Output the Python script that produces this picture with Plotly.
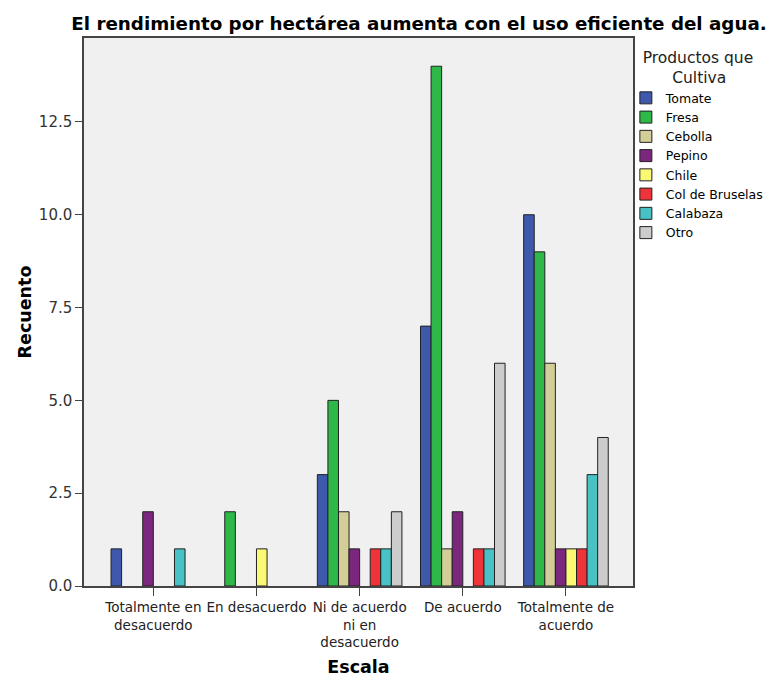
import plotly.graph_objects as go

categories = ["Totalmente en<br>desacuerdo", "En desacuerdo", "Ni de acuerdo<br>ni en<br>desacuerdo",
              "De acuerdo", "Totalmente de<br>acuerdo"]
series_names = ["Tomate", "Fresa", "Cebolla", "Pepino", "Chile", "Col de Bruselas", "Calabaza", "Otro"]
tomate = [1, None, 3, 7, 10]
fresa = [None, 2, 5, 14, 9]
cebolla = [None, None, 2, 1, 6]
pepino = [2, None, 1, 2, 1]
chile = [None, 1, None, None, 1]
col = [None, None, 1, 1, 1]
calabaza = [1, None, 1, 1, 3]
otro = [None, None, 2, 6, 4]
values = [tomate, fresa, cebolla, pepino, chile, col, calabaza, otro]
colors = ["#3E58AC", "#2EB848", "#D3CE97", "#7B277D", "#FBF873", "#EF3338", "#48C2C5", "#CCCCCC"]
y_ticks = [0, 2.5, 5, 7.5, 10, 12.5]

fig = go.Figure()
for name, vals, c in zip(series_names, values, colors):
    fig.add_trace(go.Bar(x=categories, y=vals, name=name,
                         marker=dict(color=c, line=dict(color="#222222", width=1))))

font = "DejaVu Sans, Arial, sans-serif"
fig.update_layout(
    width=769, height=677,
    barmode="group", bargap=0.18, bargroupgap=0,
    paper_bgcolor="white", plot_bgcolor="#F0F0F0",
    margin=dict(l=84, r=136, t=38, b=91, autoexpand=False),
    font=dict(family=font, size=13, color="#222222"),
    title=dict(text="<b>El rendimiento por hectárea aumenta con el uso eficiente del agua.</b>",
               x=419/769, xanchor="center", xref="container", y=1 - 24/677, yanchor="middle",
               font=dict(size=18.3, color="black")),
    legend=dict(title=dict(text="   Productos que<br>         Cultiva",
                           font=dict(size=15.5, color="#222")),
                x=0.987, xanchor="left", y=0.991, yanchor="top",
                font=dict(size=12.5, color="black"), tracegroupgap=0,
                bgcolor="rgba(0,0,0,0)", itemwidth=30),
    showlegend=True,
)
fig.update_xaxes(
    type="category", range=[-0.672, 4.65],
    showline=True, mirror=True, linecolor="#444", linewidth=1.5,
    ticks="outside", ticklen=8, tickcolor="#444",
    showgrid=False, tickfont=dict(size=13.5, color="#222"),
    title=dict(text="<b>Escala</b>", font=dict(size=17.5, color="black"), standoff=14),
)
fig.update_yaxes(
    range=[0, 14.76], tickvals=y_ticks, tickformat=".1f",
    showline=True, mirror=True, linecolor="#444", linewidth=1.5,
    ticks="outside", ticklen=7, tickcolor="#444",
    showgrid=False, zeroline=False, tickfont=dict(size=15, color="#333"),
    title=dict(text="<b>Recuento</b>", font=dict(size=17.5, color="black"), standoff=3),
)
fig.write_html("out.html", config={"displayModeBar": False},
               post_script="document.body.style.margin='0';")
